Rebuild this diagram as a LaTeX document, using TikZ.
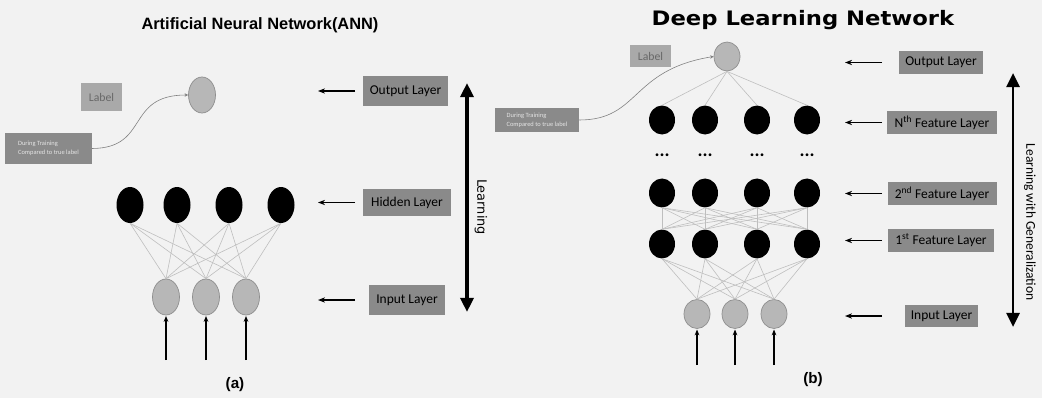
\documentclass[tikz,border=0pt]{standalone}
\usepackage{fontspec}
\setmainfont{Carlito}
\newfontfamily\headfont{Liberation Sans}
\newfontfamily\blackfont{DejaVu Sans}
\newfontfamily\sidefont{DejaVu Sans}
\usetikzlibrary{shapes.geometric,arrows.meta}

\definecolor{paper}{HTML}{F2F2F2}
\definecolor{boxgray}{HTML}{8A8A8A}
\definecolor{tagfill}{HTML}{A9A9A9}
\definecolor{tagtext}{HTML}{686868}
\definecolor{iofill}{HTML}{B7B7B7}
\definecolor{ioedge}{HTML}{8E8E8E}
\definecolor{wire}{HTML}{BEBEBE}

\tikzset{
  unit/.style = {ellipse, fill = black, inner sep = 0pt},
  ionode/.style = {ellipse, draw = ioedge, fill = iofill, line width = 0.6pt, inner sep = 0pt},
  layerbox/.style = {rectangle, fill = boxgray, inner sep = 0pt, font = \fontsize{11.5}{13}\selectfont},
  tagbox/.style = {rectangle, fill = tagfill, inner sep = 0pt, text = tagtext, font = \fontsize{10}{12}\selectfont},
  notebox/.style = {rectangle, fill = boxgray, inner sep = 0pt, text = white!90!black, align = left, font = \fontsize{5.5}{8}\selectfont},
  pointer/.style = {line width = 1.5pt, -{Stealth[length = 6pt, width = 4.5pt]}},
  feed/.style = {line width = 1.4pt, -{Stealth[length = 5pt, width = 4pt]}},
  bigarrow/.style = {line width = 3pt, {Triangle[length = 12pt, width = 11pt]}-{Triangle[length = 12pt, width = 11pt]}},
  link/.style = {wire, line width = 0.5pt}
}

\begin{document}
\begin{tikzpicture}[x = 0.03cm, y = -0.03cm]
\fill[paper] (0,0) rectangle (1042,398);
\useasboundingbox (0,0) rectangle (1042,398);

% ---------- (a) ANN ----------
\node[font = \headfont\bfseries\fontsize{14}{16}\selectfont] (ltitle) at (260,25) {Artificial Neural Network(ANN)};

\node[tagbox, minimum width = 1.23cm, minimum height = 0.84cm] (ltag) at (101.5,97) {Label};
\node[notebox, minimum width = 2.61cm, minimum height = 0.93cm] (lnote) at (48.5,148.5) {During Training\\Compared to true label};
\node[ionode, minimum width = 0.81cm, minimum height = 1.08cm] (lout) at (202,95) {};

\foreach \x [count = \i] in {130,177,229,281}
  \node[unit, minimum width = 0.81cm, minimum height = 1.08cm] (lh\i) at (\x,205) {};
\foreach \x [count = \i] in {166,206,246}{
  \node[ionode, minimum width = 0.81cm, minimum height = 1.08cm] (li\i) at (\x,297) {};
  \coordinate (lfeed\i) at (\x,360);
}
\foreach \i in {1,...,4}
  \foreach \j in {1,2,3}
    \draw[link] (lh\i.south) -- (li\j.north);
\foreach \j in {1,2,3}
  \draw[feed] (lfeed\j) -- ([yshift = -0.02cm]li\j.south);

\draw[-{Stealth[length = 3pt, width = 3pt]}, gray, line width = 0.5pt] (lnote.east) .. controls (150,148) and (125,95) .. (lout.west);

\node[layerbox, minimum width = 2.55cm, minimum height = 0.9cm] (lobox) at (405.5,91) {Output Layer};
\node[layerbox, minimum width = 2.64cm, minimum height = 0.81cm] (lhbox) at (407,202.5) {Hidden Layer};
\node[layerbox, minimum width = 2.28cm, minimum height = 0.9cm] (libox) at (407,300) {Input Layer};

% pointers from the layer boxes
\coordinate (lstem) at (355,0);
\coordinate (ltip) at (318,0);
\foreach \b in {lobox,lhbox,libox}
  \draw[pointer] (lstem |- \b.west) -- (ltip |- \b.west);

\coordinate (ltop) at (467,83);
\coordinate (lbot) at (467,312);
\draw[bigarrow] (lbot) -- (ltop);
\node[rotate = -90, font = \sidefont\fontsize{11}{13}\selectfont] (lside) at (481,207) {Learning};

\node[font = \headfont\bfseries\fontsize{13}{15}\selectfont] (lcap) at (235,385) {(a)};

% ---------- (b) deep network ----------
\node[font = \blackfont\bfseries\fontsize{17}{19}\selectfont, xscale = 1.14] (rtitle) at (803,20) {Deep Learning Network};

\node[tagbox, minimum width = 1.23cm, minimum height = 0.66cm] (rtag) at (650.5,56) {Label};
\node[notebox, minimum width = 2.52cm, minimum height = 0.72cm] (rnote) at (537,120) {During Training\\Compared to true label};
\node[ionode, minimum width = 0.78cm, minimum height = 0.87cm] (rout) at (727,56.5) {};

\foreach \x [count = \i] in {662,705,757,807}{
  \node[unit, minimum width = 0.78cm, minimum height = 0.87cm] (rn\i) at (\x,120) {};
  \node[font = \bfseries\fontsize{16}{16}\selectfont] (rd\i) at (\x,155) {...};
  \node[unit, minimum width = 0.78cm, minimum height = 0.87cm] (rs\i) at (\x,193) {};
  \node[unit, minimum width = 0.78cm, minimum height = 0.87cm] (rf\i) at (\x,244) {};
}
\foreach \x [count = \i] in {697,735,774}{
  \node[ionode, minimum width = 0.78cm, minimum height = 0.87cm] (ri\i) at (\x,314) {};
  \coordinate (rfeed\i) at (\x,365);
}
\foreach \i in {1,...,4}{
  \draw[link] (rout.south) -- (rn\i.north);
  \foreach \j in {1,...,4}
    \draw[link] (rs\i.south) -- (rf\j.north);
  \foreach \j in {1,2,3}
    \draw[link] (rf\i.south) -- (ri\j.north);
}
\foreach \j in {1,2,3}
  \draw[feed] (rfeed\j) -- ([yshift = -0.02cm]ri\j.south);

\draw[-{Stealth[length = 3pt, width = 3pt]}, gray, line width = 0.5pt] (rnote.east) .. controls (640,120) and (630,70) .. (rout.west);

\node[layerbox, minimum width = 2.52cm, minimum height = 0.69cm] (robox) at (941,62.5) {Output Layer};
\node[layerbox, minimum width = 3.3cm, minimum height = 0.69cm] (rnbox) at (942,122.5) {N\textsuperscript{th} Feature Layer};
\node[layerbox, minimum width = 3.27cm, minimum height = 0.69cm] (rsbox) at (942,193.5) {2\textsuperscript{nd} Feature Layer};
\node[layerbox, minimum width = 3.18cm, minimum height = 0.69cm] (rfbox) at (941,240.5) {1\textsuperscript{st} Feature Layer};
\node[layerbox, minimum width = 2.19cm, minimum height = 0.66cm] (ribox) at (941.5,316) {Input Layer};

\coordinate (rstem) at (882,0);
\coordinate (rtip) at (845,0);
\foreach \b in {robox,rnbox,rsbox,rfbox,ribox}
  \draw[pointer, line width = 1.1pt] (rstem |- \b.west) -- (rtip |- \b.west);

\coordinate (rtop) at (1013,73);
\coordinate (rbot) at (1013,327);
\draw[bigarrow, line width = 2.5pt] (rbot) -- (rtop);
\node[rotate = -90, font = \fontsize{11.5}{13}\selectfont] (rside) at (1030,222) {Learning with Generalization};

\node[font = \headfont\bfseries\fontsize{13}{15}\selectfont] (rcap) at (813,380) {(b)};
\end{tikzpicture}
\end{document}
